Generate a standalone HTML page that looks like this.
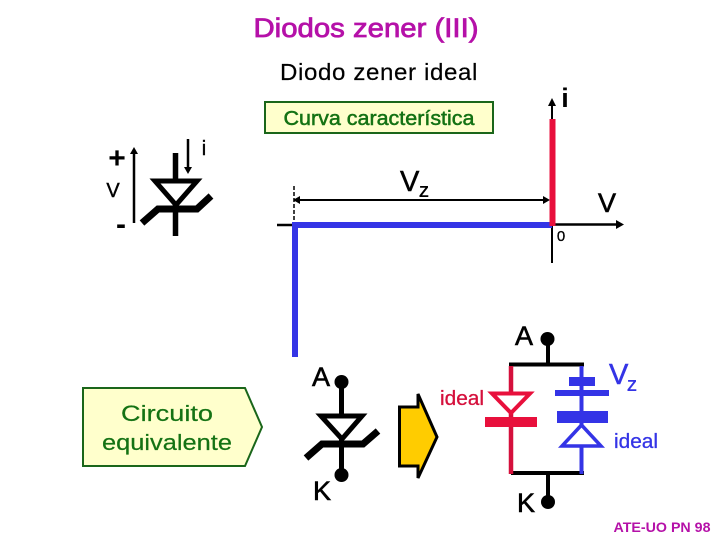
<!DOCTYPE html>
<html>
<head>
<meta charset="utf-8">
<style>
html,body{margin:0;padding:0;background:#fff;}
svg{display:block;}
text{font-family:"Liberation Sans",sans-serif;}
</style>
</head>
<body>
<svg xmlns="http://www.w3.org/2000/svg" width="720" height="540" viewBox="0 0 720 540">
<rect width="720" height="540" fill="#fff"/>

<text x="366" y="37" text-anchor="middle" font-size="27" fill="#B511A8" stroke="#B511A8" stroke-width="0.8" textLength="225" lengthAdjust="spacingAndGlyphs">Diodos zener (III)</text>
<text x="379" y="80" text-anchor="middle" font-size="23" fill="#000" stroke="#000" stroke-width="0.2" letter-spacing="0.6" textLength="198" lengthAdjust="spacingAndGlyphs">Diodo zener ideal</text>

<rect x="265" y="102" width="228" height="31" fill="#FFFFCC" stroke="#1A661A" stroke-width="2"/>
<text x="379" y="125" text-anchor="middle" font-size="20" fill="#147214" stroke="#147214" stroke-width="0.5" textLength="191" lengthAdjust="spacingAndGlyphs">Curva característica</text>

<!-- left symbol -->
<text x="117" y="168" text-anchor="middle" font-size="30" font-weight="bold" fill="#000">+</text>
<text x="113" y="197" text-anchor="middle" font-size="20" fill="#000" stroke="#000" stroke-width="0.4">V</text>
<text x="121" y="234" text-anchor="middle" font-size="30" font-weight="bold" fill="#000">-</text>
<text x="204" y="155" text-anchor="middle" font-size="20" fill="#000" stroke="#000" stroke-width="0.4">i</text>
<line x1="134" y1="223" x2="134" y2="152" stroke="#000" stroke-width="2.5"/>
<polygon points="134,147 130,154 138,154" fill="#000"/>
<line x1="188" y1="139" x2="188" y2="170" stroke="#000" stroke-width="2.5"/>
<polygon points="188,174 184,167 192,167" fill="#000"/>
<line x1="175.500" y1="153" x2="175.500" y2="236" stroke="#000" stroke-width="5.500"/>
<polygon points="155,181 197,181 176,205" fill="#fff" stroke="#000" stroke-width="5"/>
<polyline points="142,223 158,209 197,209 211,196" fill="none" stroke="#000" stroke-width="7"/>

<!-- characteristic -->
<line x1="294" y1="186" x2="294" y2="225" stroke="#000" stroke-width="1.500" stroke-dasharray="4 2"/>
<line x1="298" y1="200" x2="546" y2="200" stroke="#000" stroke-width="2"/>
<polygon points="293,200 300,196 300,204" fill="#000"/>
<polygon points="550,200 543,196 543,204" fill="#000"/>
<line x1="277" y1="225" x2="294" y2="225" stroke="#000" stroke-width="2.500"/>
<line x1="552" y1="104" x2="552" y2="263" stroke="#000" stroke-width="2"/>
<polygon points="552,98 548,106 556,106" fill="#000"/>
<line x1="552" y1="224.500" x2="618" y2="224.500" stroke="#000" stroke-width="2.500"/>
<polygon points="624,224.500 616,220 616,229" fill="#000"/>
<polyline points="295,357 295,225 552,225" fill="none" stroke="#3434E6" stroke-width="6"/>
<polyline points="552.500,119 552.500,226" fill="none" stroke="#E8103C" stroke-width="6"/>
<text x="565" y="107" text-anchor="middle" font-size="27" font-weight="bold" fill="#000">i</text>
<text x="400" y="191" font-size="29" fill="#000" stroke="#000" stroke-width="0.5">V</text>
<text x="419" y="197" font-size="16" font-weight="bold" fill="#000">Z</text>
<text x="607" y="212" text-anchor="middle" font-size="27" fill="#000" stroke="#000" stroke-width="0.6">V</text>
<text x="561" y="241" text-anchor="middle" font-size="15" fill="#000" stroke="#000" stroke-width="0.3">0</text>

<!-- pentagon -->
<polygon points="83,388 245,388 262,427 245,466 83,466" fill="#FFFFCC" stroke="#1A661A" stroke-width="2"/>
<text x="167" y="421" text-anchor="middle" font-size="22" fill="#147214" stroke="#147214" stroke-width="0.2" textLength="92" lengthAdjust="spacingAndGlyphs">Circuito</text>
<text x="167" y="450" text-anchor="middle" font-size="22" fill="#147214" stroke="#147214" stroke-width="0.2" textLength="130" lengthAdjust="spacingAndGlyphs">equivalente</text>

<!-- middle zener -->
<text x="321" y="386" text-anchor="middle" font-size="27" fill="#000" stroke="#000" stroke-width="0.6">A</text>
<text x="322" y="500" text-anchor="middle" font-size="27" fill="#000" stroke="#000" stroke-width="0.6">K</text>
<circle cx="341.500" cy="382" r="7" fill="#000"/>
<circle cx="341.500" cy="475" r="7" fill="#000"/>
<line x1="341.500" y1="382" x2="341.500" y2="475" stroke="#000" stroke-width="5"/>
<polygon points="321,416 362,416 342,439" fill="#fff" stroke="#000" stroke-width="5"/>
<polyline points="306,458 322,444 363,444 378,431" fill="none" stroke="#000" stroke-width="7"/>

<!-- block arrow -->
<polygon points="399.500,407 418,407 418,394 437,437 418,478 418,466 399.500,466" fill="#FFCC00" stroke="#000" stroke-width="3"/>

<!-- equivalent circuit -->
<text x="524" y="345" text-anchor="middle" font-size="27" fill="#000" stroke="#000" stroke-width="0.6">A</text>
<text x="526" y="512" text-anchor="middle" font-size="27" fill="#000" stroke="#000" stroke-width="0.6">K</text>
<circle cx="547.500" cy="339" r="7" fill="#000"/>
<circle cx="548" cy="502" r="7" fill="#000"/>
<line x1="548" y1="339" x2="548" y2="364" stroke="#000" stroke-width="4"/>
<line x1="548" y1="473" x2="548" y2="502" stroke="#000" stroke-width="4"/>
<line x1="509" y1="364.500" x2="584" y2="364.500" stroke="#000" stroke-width="4"/>
<line x1="511" y1="473" x2="584" y2="473" stroke="#000" stroke-width="4"/>

<line x1="511" y1="366" x2="511" y2="474" stroke="#D5103C" stroke-width="4.500"/>
<polygon points="492,393.500 530,393.500 511,413" fill="#fff" stroke="#E8103C" stroke-width="4"/>
<rect x="485" y="417" width="52" height="10" fill="#E8103C"/>

<line x1="581.500" y1="366" x2="581.500" y2="474" stroke="#3434E6" stroke-width="4"/>
<rect x="569" y="377" width="26" height="9" fill="#3434E6"/>
<rect x="555" y="390" width="54" height="6" fill="#3434E6"/>
<rect x="557" y="411" width="51" height="12" fill="#3434E6"/>
<polygon points="581.500,425 562,446 601,446" fill="#fff" stroke="#3434E6" stroke-width="3.500"/>

<text x="462" y="405" text-anchor="middle" font-size="20" fill="#D5103C" stroke="#D5103C" stroke-width="0.3" textLength="44" lengthAdjust="spacingAndGlyphs">ideal</text>
<text x="636" y="448" text-anchor="middle" font-size="20" fill="#3434E6" stroke="#3434E6" stroke-width="0.3" textLength="44" lengthAdjust="spacingAndGlyphs">ideal</text>
<text x="609" y="384" font-size="29" fill="#3434E6" stroke="#3434E6" stroke-width="0.5">V</text>
<text x="627" y="391" font-size="16" font-weight="bold" fill="#3434E6">Z</text>

<text x="662" y="532" text-anchor="middle" font-size="14" font-weight="bold" fill="#B511A8" textLength="97" lengthAdjust="spacingAndGlyphs">ATE-UO PN 98</text>
</svg>
</body>
</html>
